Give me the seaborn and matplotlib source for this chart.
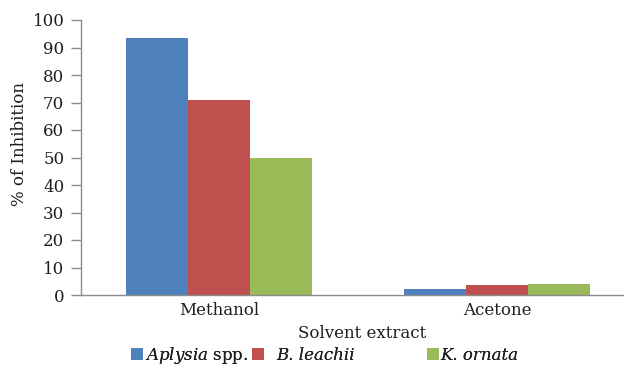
import matplotlib
matplotlib.use("Agg")
import matplotlib.pyplot as plt
import seaborn as sns
import pandas as pd
from matplotlib.patches import Patch

solvents = ["Methanol", "Acetone"]
species = ["Aplysia spp.", "B. leachii", "K. ornata"]
methanol_vals = [93.5, 71.0, 50.0]
acetone_vals = [2.1, 3.6, 4.0]
y_ticks = [0, 10, 20, 30, 40, 50, 60, 70, 80, 90, 100]
colors = ["#4F81BD", "#C0504D", "#9BBB59"]

rows = []
for sp, m, a in zip(species, methanol_vals, acetone_vals):
    rows.append({"Solvent": "Methanol", "Species": sp, "Inhibition": m})
    rows.append({"Solvent": "Acetone", "Species": sp, "Inhibition": a})
df = pd.DataFrame(rows)

sns.set_theme(style="white")
plt.rcParams["font.family"] = ["DejaVu Serif"]
plt.rcParams["mathtext.fontset"] = "dejavuserif"

fig = plt.figure(figsize=(6.24, 3.72), dpi=100)
ax = fig.add_axes([81 / 624, 77 / 372, 543 / 624, 275 / 372])

sns.barplot(data=df, x="Solvent", y="Inhibition", hue="Species",
            order=solvents, hue_order=species, palette=colors,
            width=0.67, gap=0, saturation=1, errorbar=None,
            linewidth=0, ax=ax, legend=False)

ax.set_xlim(-0.4964, 1.457)
ax.set_ylim(0, 100)
ax.set_yticks(y_ticks)
ax.set_yticklabels([str(t) for t in y_ticks])

spine_color = "#8C8C8C"
text_color = "#1E1E1E"
for side in ["top", "right"]:
    ax.spines[side].set_visible(False)
for side in ["left", "bottom"]:
    ax.spines[side].set_color(spine_color)
    ax.spines[side].set_linewidth(1.0)

ax.tick_params(axis="y", which="major", direction="out", length=7,
               width=1.0, color=spine_color, pad=5, labelsize=12,
               labelcolor=text_color, left=True)
ax.tick_params(axis="x", length=0, pad=5, labelsize=12, labelcolor=text_color)

ax.set_ylabel("% of Inhibition", fontsize=12, color=text_color)
ax.yaxis.set_label_coords(-0.097, 0.549)
ax.set_xlabel("Solvent extract", fontsize=12, color=text_color)
ax.xaxis.set_label_coords(0.5175, -0.11)

# legend entries laid out along the bottom
legend_items = [
    (r"$\mathit{Aplysia}$ spp.", "normal", 131 / 624, 0.15),
    ("B. leachii", "italic", 252 / 624, 0.75),
    ("K. ornata", "italic", 427 / 624, 0.1),
]
for (lab, style, lx, tpad), col in zip(legend_items, colors):
    leg = fig.legend(handles=[Patch(facecolor=col, edgecolor="none", label=lab)],
                     loc="center left", bbox_to_anchor=(lx, 1 - 355 / 372),
                     frameon=False, prop={"size": 12, "style": style},
                     handlelength=0.7, handleheight=0.7, handletextpad=tpad,
                     borderpad=0, borderaxespad=0)
    for t in leg.get_texts():
        t.set_color(text_color)
    fig.add_artist(leg)

fig.savefig("out.png", dpi=100)
